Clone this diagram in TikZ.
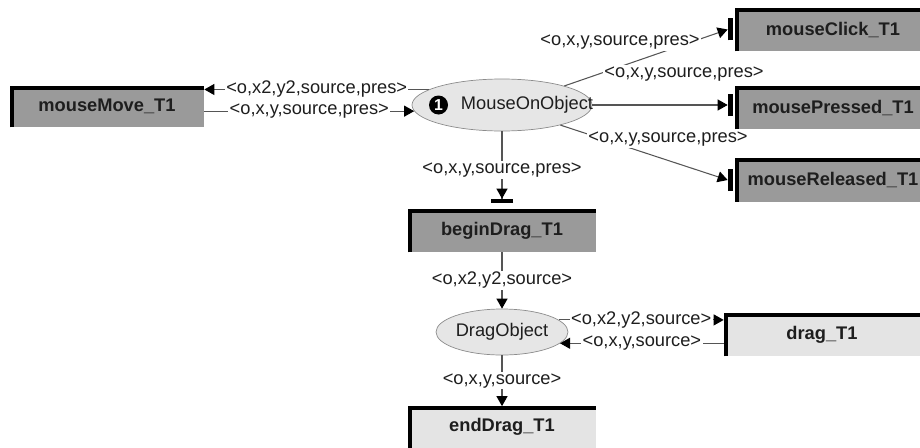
\documentclass[tikz,border=0pt]{standalone}
\usepackage{fontspec}
\setmainfont{Liberation Sans}
\usepackage{xcolor}
\definecolor{TaskDark}{HTML}{9A9A9A}
\definecolor{TaskLight}{HTML}{E4E4E4}
\definecolor{StateFill}{HTML}{E6E6E6}
\definecolor{StateEdge}{HTML}{8C8C8C}
\definecolor{WireGray}{HTML}{555555}
\definecolor{TextDark}{HTML}{1E1E1E}
\usepackage{tikz}
\usetikzlibrary{shapes.geometric, arrows.meta, positioning}
\newcommand{\diagfont}{\fontsize{10.4pt}{12pt}\selectfont}
\tikzset{
  % Box styles
  taskbox/.style={rectangle, fill=TaskDark, minimum width=3.92cm, minimum height=0.86cm, inner sep=0pt, font=\diagfont\bfseries, text=TextDark},
  lighttaskbox/.style={taskbox, fill=TaskLight},
  taskedge/.style={line width=0.08cm, black, line join=miter},
  % Node styles
  statenode/.style={ellipse, draw=StateEdge, fill=StateFill, inner sep=0pt, font=\diagfont, text=TextDark},
  badgenode/.style={circle, fill=black, text=white, inner sep=0pt, minimum size=0.38cm, font=\fontsize{9pt}{9pt}\selectfont\bfseries},
  sigtext/.style={fill=white, inner sep=0.8pt, font=\diagfont, text=TextDark},
  % Arrow styles
  arrow/.style={draw=WireGray, line width=0.6pt, -{Triangle[length=0.2cm, width=0.22cm, color=black]}},
  bararrow/.style={draw=WireGray, line width=0.6pt, -{Triangle[length=0.2cm, width=0.22cm, color=black]Bar[width=0.44cm, line width=0.08cm, color=black]}, shorten >=0.12cm},
  bartick/.style={line width=0.1cm, black}
}

\begin{document}
\begin{tikzpicture}
  \useasboundingbox (0,0) rectangle (18.4,8.94);
  \clip (0,0) rectangle (18.4,8.94);

  % Tasks
  \node[taskbox, minimum width=3.88cm, minimum height=0.82cm] (mm) at (2.14,6.81) {mouseMove\_T1};
  \node[taskbox] (mc) at (16.66,8.35) {mouseClick\_T1};
  \node[taskbox] (mp) at (16.66,6.79) {mousePressed\_T1};
  \node[taskbox] (mr) at (16.66,5.34) {mouseReleased\_T1};
  \node[taskbox, minimum width=3.76cm] (bd) at (10.04,4.33) {beginDrag\_T1};
  \node[lighttaskbox] (dr) at (16.44,2.25) {drag\_T1};
  \node[lighttaskbox, minimum width=3.76cm, minimum height=0.82cm] (ed) at (10.04,0.40) {endDrag\_T1};
  \foreach \n in {mm,mc,mp,mr,bd,dr,ed}
    \draw[taskedge] ([xshift=0.04cm]\n.south west) -- ([shift={(0.04cm,-0.04cm)}]\n.north west) -- ([yshift=-0.04cm]\n.north east);

  % States
  \node[statenode, minimum width=3.6cm, minimum height=1.04cm] (moo) at (10.04,6.84) {\makebox[0pt]{\hspace{1cm}MouseOnObject}};
  \node[badgenode, right=0.34cm of moo.west] (one) {1};
  \node[statenode, minimum width=2.64cm, minimum height=0.92cm] (dob) at (10.04,2.30) {DragObject};

  % Mouse move loop
  \draw[arrow] (moo.168) -- (moo.168 -| mm.east) node[sigtext, midway] (smm1) {<o,x2,y2,source,pres>};
  \draw[arrow] (moo.184 -| mm.east) -- (moo.184) node[sigtext, midway] (smm2) {<o,x,y,source,pres>};

  % Mouse buttons
  \draw[arrow] (moo.17) -- ([xshift=-0.14cm]mc.west);
  \draw[arrow] (moo.east) -- ([xshift=-0.14cm]moo.east -| mp.west);
  \draw[arrow] (moo.-19) -- ([xshift=-0.14cm]mr.west);
  \foreach \n in {mc,mr}
    \draw[bartick] ([shift={(-0.09cm,-0.22cm)}]\n.west) -- ([shift={(-0.09cm,0.22cm)}]\n.west);
  \draw[bartick] ([shift={(-0.09cm,-0.22cm)}]moo.east -| mp.west) -- ([shift={(-0.09cm,0.22cm)}]moo.east -| mp.west);
  \node[sigtext] (smc) at (12.40,8.10) {<o,x,y,source,pres>};
  \node[sigtext] (smp) at (13.68,7.46) {<o,x,y,source,pres>};
  \node[sigtext] (smr) at (13.36,6.16) {<o,x,y,source,pres>};

  % Drag sequence
  \draw[bararrow] (moo.south) -- (bd.north) node[sigtext, midway] (sbd) {<o,x,y,source,pres>};
  \draw[arrow] (bd.south) -- (dob.north) node[sigtext, midway] (sdo) {<o,x2,y2,source>};
  \draw[arrow] (dob.12) -- (dob.12 -| dr.west) node[sigtext, midway] (sdr1) {<o,x2,y2,source>};
  \draw[arrow] (dob.-11 -| dr.west) -- (dob.-11) node[sigtext, midway] (sdr2) {<o,x,y,source>};
  \draw[arrow] (dob.south) -- (ed.north) node[sigtext, midway] (sed) {<o,x,y,source>};
\end{tikzpicture}
\end{document}
